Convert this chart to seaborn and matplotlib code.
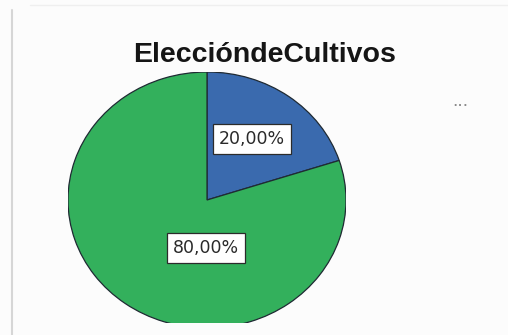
import matplotlib
matplotlib.use("Agg")
import matplotlib.pyplot as plt
import seaborn as sns
from matplotlib.lines import Line2D

sns.set_theme(style="white")
plt.rcParams["font.family"] = ["Liberation Sans", "DejaVu Sans"]

# Data
categories = ["Sí", "No"]
shares = [20.0, 80.0]
labels = ["20,00%", "80,00%"]
colors = ["#3a6aae", "#33b05c"]

fig = plt.figure(figsize=(5.08, 3.35), dpi=100)
fig.patch.set_facecolor("#fcfcfc")

W, H = 508, 335
# pie area: horizontal radius 139 px, vertical radius 128 px, centre (207, 200) px, cut at y=323
cx, cy, rx, ry = 207, 200, 139, 128
ybot = 323
ylow = -(ybot - cy) / ry
ax = fig.add_axes([(cx - rx) / W, (H - ybot) / H, 2 * rx / W, (ybot - (cy - ry)) / H])
ax.set_facecolor("none")

wedges, _ = ax.pie(shares, colors=colors, startangle=90, counterclock=False,
                   wedgeprops=dict(edgecolor="#1f2a33", linewidth=0.9))
ax.set_aspect("auto")
ax.set_xlim(-1, 1)
ax.set_ylim(ylow, 1)
for w in wedges:
    w.set_clip_on(True)
ax.axis("off")

# value labels in boxed frames
label_pos = [(0.324, 0.477), (-0.007, -0.375)]
for (lx, ly), txt in zip(label_pos, labels):
    ax.text(lx, ly, txt, ha="center", va="center", fontsize=12.5, color="#2a2a2a",
            family=["DejaVu Sans"],
            bbox=dict(boxstyle="square,pad=0.33", facecolor="white", edgecolor="#2b2b2b", linewidth=0.9))

fig.text(265 / W, 1 - 62 / H, "EleccióndeCultivos", ha="center", va="baseline",
         fontsize=20.5, fontweight="bold", color="#151515")

fig.text(460 / W, 1 - 101 / H, "...", ha="center", va="center", fontsize=14, color="#8a8a8a")

# frame lines
fig.add_artist(Line2D([12 / W, 12 / W], [0, 1 - 10 / H], color="#d6d6d6", linewidth=1.5))
fig.add_artist(Line2D([30 / W, 1], [1 - 5 / H, 1 - 5 / H], color="#efefef", linewidth=1.0))

fig.savefig("out.png", dpi=100, facecolor=fig.get_facecolor())
